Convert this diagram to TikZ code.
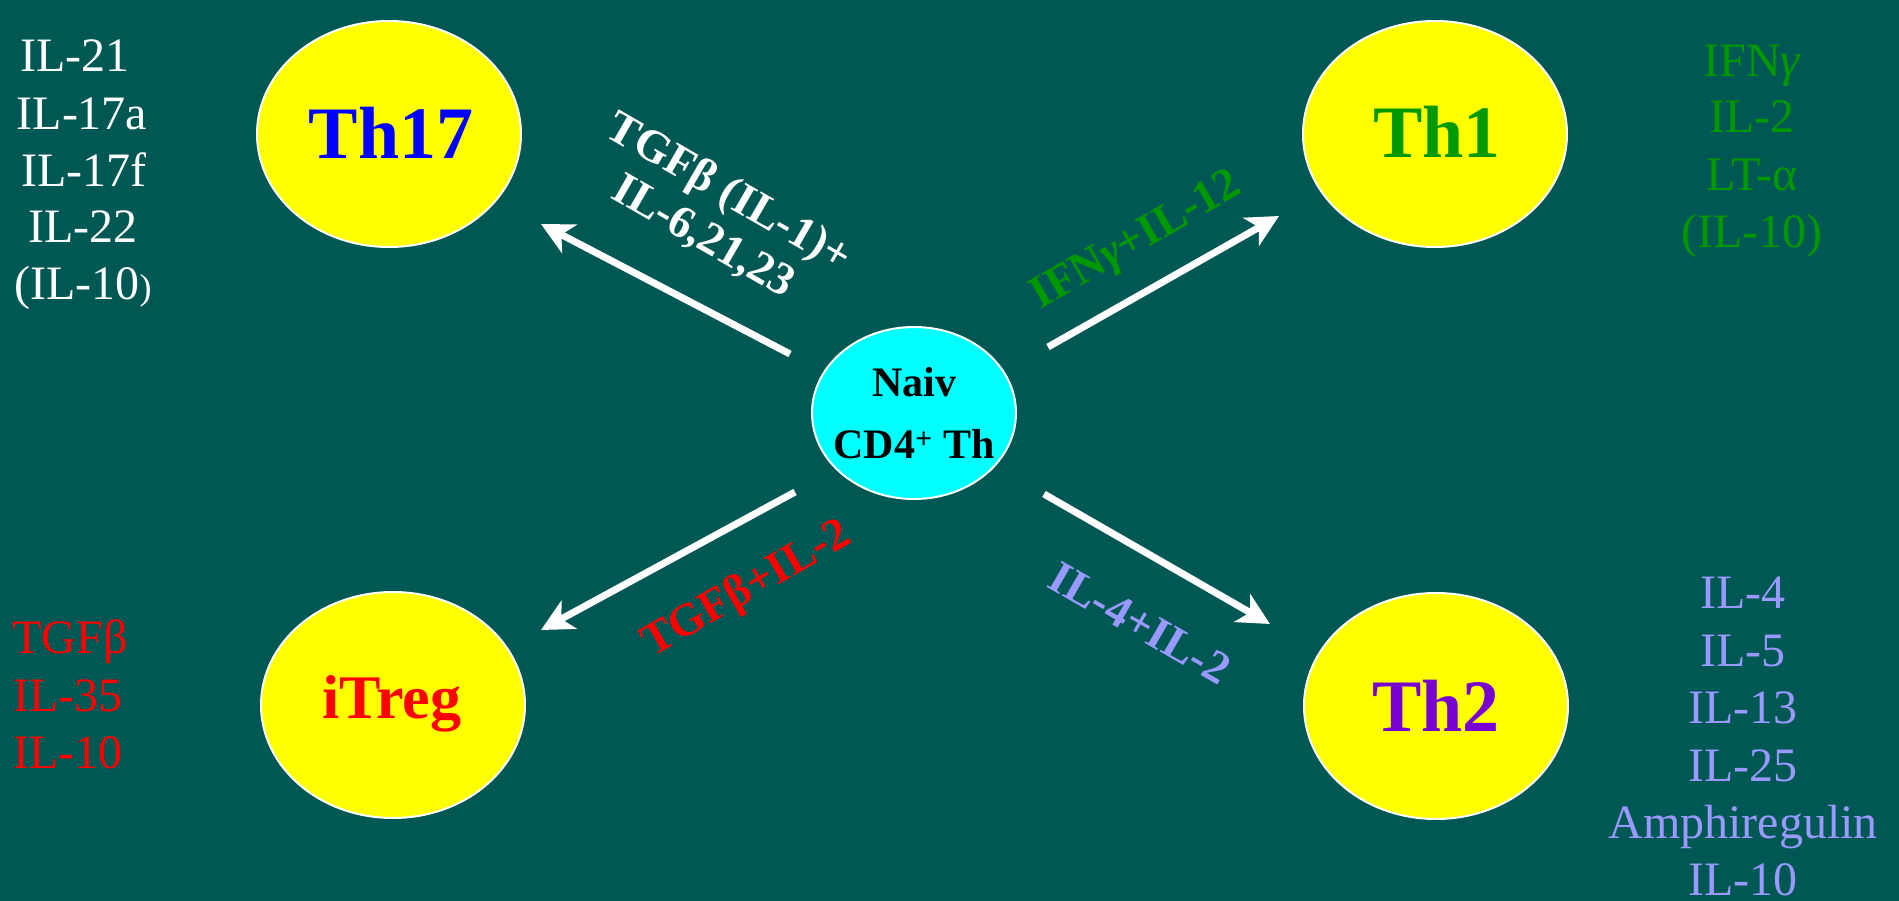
\documentclass[tikz,border=0pt]{standalone}
\usepackage{fontspec}
\setmainfont{Liberation Serif}
\usetikzlibrary{arrows.meta,shapes.geometric}

\definecolor{bgteal}{RGB}{0,88,84}
\definecolor{cellyellow}{RGB}{255,255,0}
\definecolor{naivecyan}{RGB}{0,255,255}
\definecolor{thonegreen}{RGB}{0,153,0}
\definecolor{tregred}{RGB}{255,0,0}
\definecolor{thtwolav}{RGB}{153,153,255}
\definecolor{thsevblue}{RGB}{0,0,255}
\definecolor{thtwopurple}{RGB}{120,0,210}

% slanted gamma, as in the cytokine names
\newcommand{\gam}{\textit{γ}}

\begin{document}
\begin{tikzpicture}[x=1pt,y=-1pt,
  cell/.style={ellipse, draw=white, line width=2pt, fill=cellyellow,
               minimum width=264pt, minimum height=226pt, inner sep=0pt},
  naive/.style={ellipse, draw=white, line width=2pt, fill=naivecyan,
               minimum width=204pt, minimum height=172pt, inner sep=0pt},
  celltext/.style={anchor=base, inner sep=0pt, font=\fontsize{74}{80}\selectfont\bfseries},
  naivetext/.style={anchor=base, inner sep=0pt, text=black, font=\fontsize{42}{48}\selectfont\bfseries},
  signal/.style={inner sep=0pt, align=center, font=\fontsize{46}{51}\selectfont\bfseries},
  product/.style={anchor=base, inner sep=0pt, font=\fontsize{48}{57}\selectfont},
  arr/.style={draw=white, line width=7pt,
              -{Stealth[length=32pt,width=32pt,inset=9pt]}}]

% background
\fill[bgteal] (0,0) rectangle (1899,901);
\useasboundingbox (0,0) rectangle (1899,901);

% cells
\node[cell] (th17) at (389,134) {};
\node[cell] (th1) at (1435,134) {};
\node[cell] (itreg) at (393,705) {};
\node[cell] (th2) at (1436,706) {};
\node[naive] (naiv) at (914,413) {};

% cell names
\node[celltext, text=thsevblue] (th17name) at (391,159) {Th17};
\node[celltext, text=thonegreen] (th1name) at (1437,158) {Th1};
\node[celltext, text=tregred, font=\fontsize{62}{70}\selectfont\bfseries] (itregname) at (392,718) {iTreg};
\node[celltext, text=thtwopurple] (th2name) at (1436,731) {Th2};
\node[naivetext] (naivname1) at (914,396) {Naiv};
\node[naivetext] (naivname2) at (914,458) {CD4\textsuperscript{+} Th};

% arrow end points
\coordinate (s17) at (790,354);
\coordinate (e17) at (541,224);
\coordinate (s1) at (1048,347);
\coordinate (e1) at (1279,216);
\coordinate (sreg) at (795,492);
\coordinate (ereg) at (541,630);
\coordinate (s2) at (1044,494);
\coordinate (e2) at (1270,624);

\draw[arr] (s17) -- (e17);
\draw[arr] (s1) -- (e1);
\draw[arr] (sreg) -- (ereg);
\draw[arr] (s2) -- (e2);

% polarizing signals
\node[signal, text=white, rotate=-30] (sig17) at (716,215) {TGFβ (IL-1)+\\IL-6,21,23};
\node[signal, text=thonegreen, rotate=30] (sig1) at (1137,242) {IFN\gam+IL-12};
\node[signal, text=tregred, rotate=30] (sigreg) at (747,590) {TGFβ+IL-2};
\node[signal, text=thtwolav, rotate=-30] (sig2) at (1140,623) {IL-4+IL-2};

% Th17 products
\node[product, text=white] (p17a) at (75,72) {IL-21};
\node[product, text=white] (p17b) at (82,130) {IL-17a};
\node[product, text=white] (p17c) at (84,187) {IL-17f};
\node[product, text=white] (p17d) at (83,243) {IL-22};
\node[product, text=white] (p17e) at (83,300) {(IL-10{\fontsize{36}{40}\selectfont)}};

% Th1 products
\node[product, text=thonegreen] (p1a) at (1752,77) {IFN\gam};
\node[product, text=thonegreen] (p1b) at (1752,133) {IL-2};
\node[product, text=thonegreen] (p1c) at (1752,191) {LT-α};
\node[product, text=thonegreen] (p1d) at (1752,248) {(IL-10)};

% iTreg products
\node[product, text=tregred] (prega) at (70,653) {TGFβ};
\node[product, text=tregred] (pregb) at (68,711) {IL-35};
\node[product, text=tregred] (pregc) at (68,768) {IL-10};

% Th2 products
\node[product, text=thtwolav] (p2a) at (1743,608) {IL-4};
\node[product, text=thtwolav] (p2b) at (1743,666) {IL-5};
\node[product, text=thtwolav] (p2c) at (1743,723) {IL-13};
\node[product, text=thtwolav] (p2d) at (1743,781) {IL-25};
\node[product, text=thtwolav] (p2e) at (1743,838) {Amphiregulin};
\node[product, text=thtwolav] (p2f) at (1743,895) {IL-10};

\end{tikzpicture}
\end{document}
